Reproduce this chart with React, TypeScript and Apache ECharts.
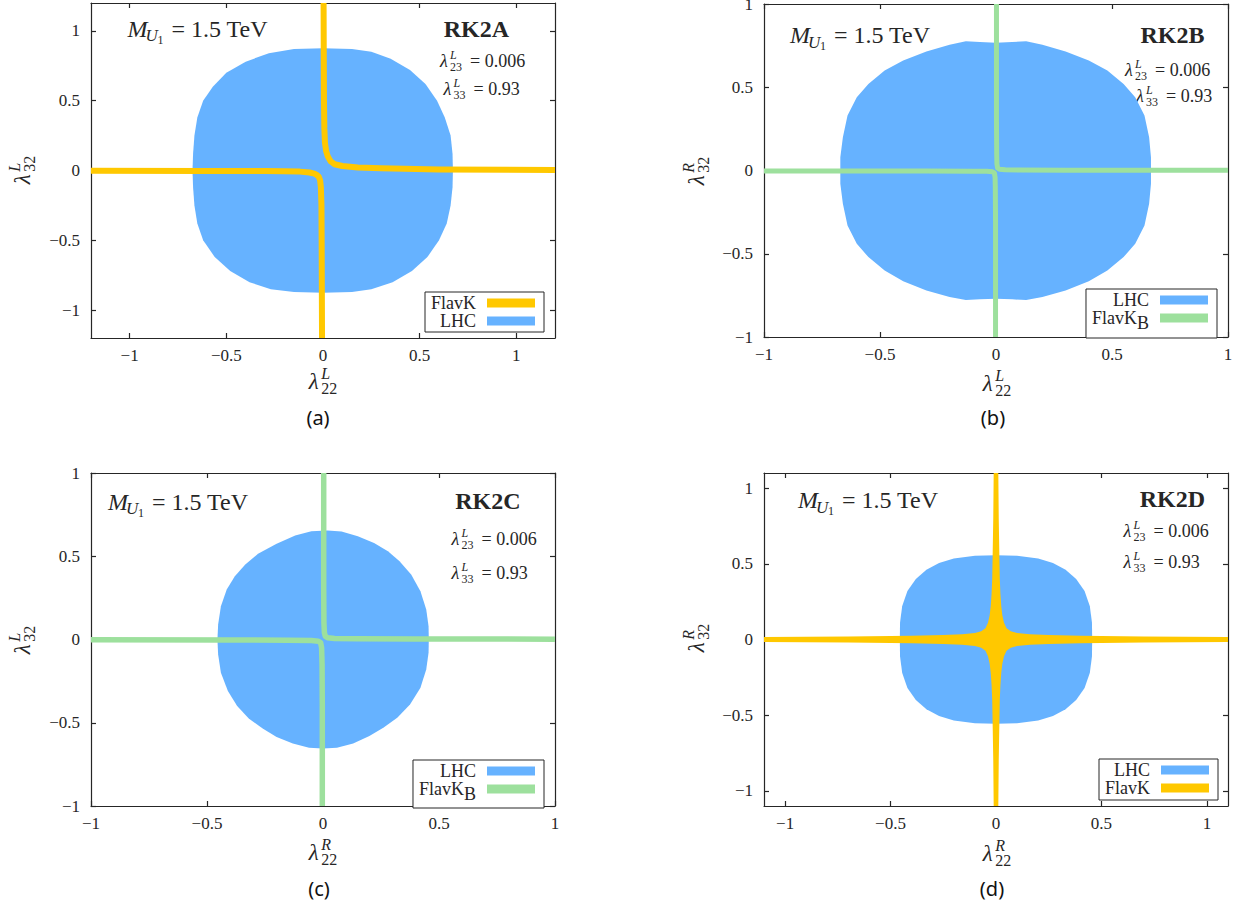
import React, { useEffect, useRef } from 'react';
import * as echarts from 'echarts';

// ---------- data ----------
const tickValues = [-1, -0.5, 0, 0.5, 1];
const scenarioNames = ['RK2A', 'RK2B', 'RK2C', 'RK2D'];
const captions = ['(a)', '(b)', '(c)', '(d)'];
const massValue = '1.5 TeV';
const lambda23Value = '0.006';
const lambda33Value = '0.93';
// [superscript of x-axis coupling, superscript of y-axis coupling]
const axisChirality = [['L', 'L'], ['L', 'R'], ['R', 'L'], ['R', 'R']];

// LHC allowed regions (boundary points, x = λ22, y = λ32)
const lhcA = [[0,0.875],[0.15,0.87],[0.25,0.85],[0.35,0.8],[0.45,0.72],[0.53,0.62],[0.59,0.5],[0.63,0.38],[0.66,0.25],[0.67,0.12],[0.672,0],[0.67,-0.12],[0.66,-0.25],[0.64,-0.38],[0.6,-0.5],[0.54,-0.62],[0.46,-0.72],[0.36,-0.8],[0.25,-0.85],[0.15,-0.87],[0,-0.875],[-0.15,-0.87],[-0.27,-0.85],[-0.38,-0.8],[-0.48,-0.72],[-0.56,-0.62],[-0.62,-0.5],[-0.65,-0.38],[-0.665,-0.25],[-0.672,-0.12],[-0.675,0],[-0.672,0.12],[-0.665,0.25],[-0.65,0.38],[-0.62,0.5],[-0.57,0.6],[-0.5,0.7],[-0.4,0.78],[-0.28,0.84],[-0.15,0.87]];
const lhcB = [[0,0.768],[0.07,0.772],[0.13,0.776],[0.2,0.755],[0.3,0.715],[0.4,0.66],[0.48,0.6],[0.55,0.52],[0.6,0.44],[0.64,0.33],[0.66,0.2],[0.668,0.08],[0.668,0],[0.668,-0.08],[0.66,-0.2],[0.64,-0.33],[0.6,-0.44],[0.55,-0.52],[0.48,-0.6],[0.4,-0.665],[0.3,-0.72],[0.2,-0.76],[0.13,-0.778],[0.07,-0.774],[0,-0.77],[-0.07,-0.774],[-0.13,-0.778],[-0.2,-0.76],[-0.3,-0.72],[-0.4,-0.665],[-0.48,-0.6],[-0.55,-0.52],[-0.6,-0.44],[-0.64,-0.33],[-0.66,-0.2],[-0.671,-0.08],[-0.671,0],[-0.671,0.08],[-0.66,0.2],[-0.64,0.33],[-0.6,0.44],[-0.55,0.52],[-0.48,0.6],[-0.4,0.66],[-0.3,0.715],[-0.2,0.755],[-0.13,0.776],[-0.07,0.772]];
const lhcC = [[0.02,0.655],[0.08,0.648],[0.15,0.62],[0.22,0.58],[0.28,0.53],[0.33,0.47],[0.38,0.39],[0.42,0.29],[0.445,0.18],[0.455,0.08],[0.456,0],[0.455,-0.08],[0.445,-0.18],[0.42,-0.29],[0.375,-0.39],[0.32,-0.47],[0.26,-0.53],[0.2,-0.58],[0.13,-0.625],[0.06,-0.65],[0,-0.655],[-0.06,-0.65],[-0.13,-0.625],[-0.2,-0.585],[-0.26,-0.535],[-0.32,-0.475],[-0.37,-0.4],[-0.41,-0.31],[-0.44,-0.2],[-0.452,-0.09],[-0.455,0],[-0.452,0.09],[-0.44,0.2],[-0.415,0.3],[-0.38,0.38],[-0.335,0.45],[-0.28,0.515],[-0.2,0.575],[-0.12,0.625],[-0.05,0.65]];
const lhcD = [[0,0.557],[0.1,0.553],[0.2,0.535],[0.27,0.505],[0.33,0.46],[0.38,0.4],[0.42,0.32],[0.445,0.22],[0.455,0.11],[0.456,0],[0.455,-0.11],[0.445,-0.22],[0.42,-0.32],[0.38,-0.4],[0.33,-0.46],[0.27,-0.505],[0.2,-0.535],[0.1,-0.553],[0,-0.557],[-0.1,-0.553],[-0.2,-0.535],[-0.27,-0.505],[-0.33,-0.46],[-0.38,-0.4],[-0.42,-0.32],[-0.445,-0.22],[-0.455,-0.11],[-0.456,0],[-0.455,0.11],[-0.445,0.22],[-0.42,0.32],[-0.38,0.4],[-0.33,0.46],[-0.27,0.505],[-0.2,0.535],[-0.1,0.553]];

// flavour bands (centre lines of the two hyperbola branches)
const flavAUpper = [[0.003,1.2],[0.004,0.8],[0.005,0.5],[0.007,0.3],[0.01,0.2],[0.016,0.14],[0.025,0.1],[0.04,0.065],[0.06,0.045],[0.1,0.032],[0.18,0.022],[0.3,0.016],[0.6,0.008],[1.2,0.003]];
const flavALower = [[-1.2,-0.002],[-0.6,-0.003],[-0.3,-0.004],[-0.2,-0.005],[-0.12,-0.008],[-0.07,-0.014],[-0.045,-0.022],[-0.032,-0.032],[-0.022,-0.045],[-0.015,-0.07],[-0.011,-0.12],[-0.008,-0.25],[-0.007,-0.5],[-0.005,-1.2]];
const flavBUpper = [[0.002,1],[0.002,0.3],[0.003,0.1],[0.004,0.04],[0.007,0.015],[0.015,0.007],[0.04,0.004],[0.1,0.003],[0.3,0.002],[1,0.001]];
const flavBLower = [[-1,-0.003],[-0.3,-0.003],[-0.1,-0.004],[-0.04,-0.005],[-0.015,-0.007],[-0.007,-0.015],[-0.004,-0.04],[-0.003,-0.1],[-0.002,-0.3],[-0.002,-1]];
const flavCUpper = [[0.003,1],[0.003,0.3],[0.004,0.1],[0.006,0.04],[0.01,0.02],[0.02,0.01],[0.05,0.006],[0.15,0.004],[0.4,0.003],[1,0.002]];
const flavCLower = [[-1,-0.002],[-0.4,-0.003],[-0.15,-0.004],[-0.05,-0.006],[-0.02,-0.01],[-0.01,-0.02],[-0.006,-0.05],[-0.004,-0.15],[-0.003,-0.4],[-0.003,-1]];
// panel (d): allowed band |λ22 λ32| small, boundary in the first quadrant (symmetric star)
const flavDStarQ1 = [[0.011,1.1],[0.013,0.8],[0.016,0.55],[0.018,0.4],[0.021,0.3],[0.025,0.22],[0.03,0.16],[0.038,0.11],[0.05,0.075],[0.07,0.055],[0.1,0.043],[0.16,0.034],[0.25,0.029],[0.4,0.024],[0.7,0.019],[1.1,0.016]];

// ---------- styles & layout ----------
const SERIF = "'Liberation Serif', 'Times New Roman', serif";
const SANS = "'Noto Sans', 'DejaVu Sans', sans-serif";
const INK = '#262626';
const BLUE = '#66b2ff';
const YELLOW = '#ffc800';
const GREEN = '#9de09d';
const COLORS: Record<string, string> = { LHC: BLUE, FlavK: YELLOW, FlavKB: GREEN };

const LAYOUT = [
  { grid: { left: 91, top: 3, width: 464, height: 335 }, range: 1.2, mass: [127.5, 28.5], scen: [509, 28.5], l23: [440, 61], l33: [443.5, 89], xName: [323, 381], yName: [22, 170], caption: [318, 417], legend: { right: 698, top: 292, pad: [2, 9, 2, 6] }, legendNames: ['FlavK', 'LHC'] },
  { grid: { left: 764, top: 4, width: 464, height: 333 }, range: 1, mass: [790, 35], scen: [1204.5, 35], l23: [1125, 70], l33: [1136, 96], xName: [997, 383], yName: [696, 171], caption: [993, 417], legend: { right: 25, top: 289, pad: [2, 9, 6, 6] }, legendNames: ['LHC', 'FlavKB'] },
  { grid: { left: 91, top: 473, width: 464, height: 333 }, range: 1, mass: [108, 501.5], scen: [520.6, 501], l23: [451.5, 539], l33: [451.5, 572.7], xName: [323, 852], yName: [22, 640], caption: [319, 888], legend: { right: 698, top: 760, pad: [2, 9, 5, 6] }, legendNames: ['LHC', 'FlavKB'] },
  { grid: { left: 764, top: 473, width: 464, height: 333 }, range: 1.1, mass: [798, 500], scen: [1205, 499], l23: [1123.6, 531], l33: [1123.6, 561.7], xName: [997, 853], yName: [696, 638], caption: [992, 888], legend: { right: 24, top: 759, pad: [2, 9, 3, 6] }, legendNames: ['LHC', 'FlavK'] },
];

const fmtTick = (v: number) => (v < 0 ? '\u2212' + String(Math.abs(v)) : String(v));

function txt(x: number, y: number, text: string, size: number, o: any = {}) {
  return {
    type: 'text', x, y, silent: true,
    style: {
      text, fontFamily: o.family || SERIF, fontSize: size,
      fontStyle: o.italic ? 'italic' : 'normal', fontWeight: o.bold ? 'bold' : 'normal',
      fill: o.color || INK, align: o.align || 'left', verticalAlign: 'middle',
    },
  };
}

function lam(x: number, y: number, sup: string, sub: string, size: number) {
  const s = Math.round(size * 0.68);
  const dx = size * 0.55;
  return [
    txt(x, y, '\u03bb', size, { italic: true }),
    txt(x + dx, y - size * 0.32, sup, s, { italic: true }),
    txt(x + dx, y + size * 0.34, sub, s),
  ];
}
const lamWidth = (sub: string, size: number) => size * 0.55 + sub.length * 0.5 * Math.round(size * 0.68);

function axisName(cx: number, cy: number, sup: string, sub: string, rotate: boolean) {
  const size = 23;
  const w = lamWidth(sub, size);
  return { type: 'group', x: cx, y: cy, rotation: rotate ? Math.PI / 2 : 0, children: lam(-w / 2, 0, sup, sub, size) };
}

function massEls(x: number, y: number) {
  return [
    txt(x, y, 'M', 24, { italic: true }),
    txt(x + 18, y + 7, 'U', 17, { italic: true }),
    txt(x + 30, y + 11, '1', 12),
    txt(x + 44, y, '= ' + massValue, 24),
  ];
}

function couplingEls(x: number, y: number, sub: string, value: string) {
  return [...lam(x, y, 'L', sub, 18), txt(x + 30, y, '= ' + value, 18)];
}

function polygonSeries(name: string, pts: number[][], color: string, i: number, z: number) {
  return {
    type: 'custom', name, xAxisIndex: 2 * i, yAxisIndex: 2 * i, data: pts, color, z, clip: true, silent: true,
    encode: { x: 0, y: 1 },
    renderItem: (params: any, api: any) => {
      if (params.dataIndex !== 0) return { type: 'group', children: [] };
      return { type: 'polygon', shape: { points: pts.map((p) => api.coord(p)) }, style: { fill: color } };
    },
  };
}

function lineSeries(name: string, pts: number[][], color: string, width: number, i: number) {
  return {
    type: 'line', name, xAxisIndex: 2 * i, yAxisIndex: 2 * i, data: pts, color, z: 3, clip: true, silent: true,
    symbol: 'none', showSymbol: false, smooth: false,
    lineStyle: { color, width, cap: 'butt', join: 'round' },
  };
}

function mirrorStar(q1: number[][]) {
  const rev = q1.slice().reverse();
  return [
    ...q1,
    ...rev.map(([x, y]) => [x, -y]),
    ...q1.map(([x, y]) => [-x, -y]),
    ...rev.map(([x, y]) => [-x, y]),
  ];
}

function buildOption() {
  const axisLineStyle = { color: INK, width: 1.2 };
  const grid: any[] = [];
  const xAxis: any[] = [];
  const yAxis: any[] = [];
  const legend: any[] = [];
  const graphic: any[] = [];

  LAYOUT.forEach((L, i) => {
    grid.push({ ...L.grid, containLabel: false, outerBoundsMode: 'none' });
    const base = (gridIndex: number) => ({
      gridIndex, type: 'value', min: -L.range, max: L.range,
      splitLine: { show: false },
      axisLine: { show: true, onZero: false, lineStyle: axisLineStyle },
      axisTick: { show: true, inside: true, length: 5, customValues: tickValues, lineStyle: axisLineStyle },
    });
    const label = (margin: number) => ({
      show: true, customValues: tickValues, formatter: fmtTick, margin,
      fontFamily: SERIF, fontSize: 17, color: INK, showMinLabel: true, showMaxLabel: true, hideOverlap: false,
    });
    xAxis.push({ ...base(i), position: 'bottom', axisLabel: label(9) });
    xAxis.push({ ...base(i), position: 'top', axisLabel: { show: false } });
    yAxis.push({ ...base(i), position: 'left', axisLabel: label(11) });
    yAxis.push({ ...base(i), position: 'right', axisLabel: { show: false } });

    legend.push({
      orient: 'vertical', align: 'right', right: L.legend.right, top: L.legend.top,
      icon: 'rect', itemWidth: 48, itemHeight: 9, itemGap: 0,
      padding: L.legend.pad, borderColor: INK, borderWidth: 1, borderRadius: 0, backgroundColor: '#ffffff',
      selectedMode: false, itemStyle: { borderWidth: 0 },
      textStyle: {
        fontFamily: SERIF, fontSize: 18, color: INK, padding: [0, 6, 0, 0],
        rich: { b: { fontFamily: SERIF, fontSize: 18, color: INK, padding: [10, 0, 0, 0] } },
      },
      formatter: (n: string) => (n === 'FlavKB' ? 'FlavK{b|B}' : n),
      data: L.legendNames.map((n) => ({ name: n, itemStyle: { color: COLORS[n] } })),
    });

    const [xs, ys] = axisChirality[i];
    graphic.push(axisName(L.xName[0], L.xName[1], xs, '22', false));
    graphic.push(axisName(L.yName[0], L.yName[1], ys, '32', true));
    graphic.push(...massEls(L.mass[0], L.mass[1]));
    graphic.push(txt(L.scen[0], L.scen[1], scenarioNames[i], 24, { bold: true, align: 'right' }));
    graphic.push(...couplingEls(L.l23[0], L.l23[1], '23', lambda23Value));
    graphic.push(...couplingEls(L.l33[0], L.l33[1], '33', lambda33Value));
    graphic.push(txt(L.caption[0], L.caption[1], captions[i], 20, { family: SANS, align: 'center', color: '#111111' }));
  });

  const series: any[] = [
    polygonSeries('LHC', lhcA, BLUE, 0, 2),
    lineSeries('FlavK', flavAUpper, YELLOW, 6, 0),
    lineSeries('FlavK', flavALower, YELLOW, 6, 0),
    polygonSeries('LHC', lhcB, BLUE, 1, 2),
    lineSeries('FlavKB', flavBUpper, GREEN, 5, 1),
    lineSeries('FlavKB', flavBLower, GREEN, 5, 1),
    polygonSeries('LHC', lhcC, BLUE, 2, 2),
    lineSeries('FlavKB', flavCUpper, GREEN, 5.5, 2),
    lineSeries('FlavKB', flavCLower, GREEN, 5.5, 2),
    polygonSeries('LHC', lhcD, BLUE, 3, 2),
    polygonSeries('FlavK', mirrorStar(flavDStarQ1), YELLOW, 3, 3),
  ];

  return {
    animation: false,
    backgroundColor: '#ffffff',
    textStyle: { fontFamily: SERIF },
    grid, xAxis, yAxis, legend, series,
    graphic: { elements: graphic },
  };
}

export default function App() {
  const ref = useRef<HTMLDivElement>(null);
  useEffect(() => {
    if (!ref.current) return;
    const chart = echarts.init(ref.current, undefined, { renderer: 'svg' });
    chart.setOption(buildOption() as any);
    return () => chart.dispose();
  }, []);
  return <div ref={ref} style={{ position: 'absolute', left: 0, top: 0, width: 1242, height: 903, background: '#fff' }} />;
}
